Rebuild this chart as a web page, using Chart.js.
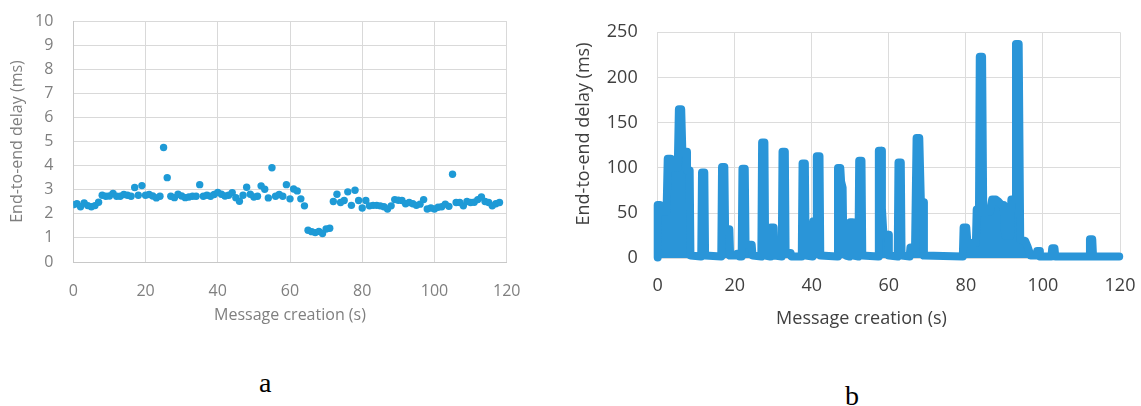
<!DOCTYPE html>
<html><head><meta charset="utf-8">
<script src="https://cdn.jsdelivr.net/npm/chart.js@4.4.1/dist/chart.umd.min.js"></script>
<style>
html,body{margin:0;padding:0;background:#fff;width:1141px;height:406px;overflow:hidden;position:relative;}
#wa{position:absolute;left:0;top:0;width:560px;height:340px;}
#wb{position:absolute;left:560px;top:0;width:581px;height:340px;}
.cap{position:absolute;font-family:"Liberation Serif",serif;font-size:28px;color:#000;line-height:28px;}
</style></head><body>
<div id="wa"><canvas id="ca"></canvas></div>
<div id="wb"><canvas id="cb"></canvas></div>
<div class="cap" style="left:259px;top:369px">a</div>
<div class="cap" style="left:845px;top:382px">b</div>
<script>
// ---- panel a: one sample per second ----
const leftSeconds = [0,1,2,3,4,5,6,7,8,9,10,11,12,13,14,15,16,17,18,19,20,21,22,23,24,25,26,27,28,29,30,31,32,33,34,35,36,37,38,39,40,41,42,43,44,45,46,47,48,49,50,51,52,53,54,55,56,57,58,59,60,61,62,63,64,65,66,67,68,69,70,71,72,73,74,75,76,77,78,79,80,81,82,83,84,85,86,87,88,89,90,91,92,93,94,95,96,97,98,99,100,101,102,103,104,105,106,107,108,109,110,111,112,113,114,115,116,117,118];
const leftDelayMs = [
2.38,2.42,2.29,2.45,2.34,2.29,2.34,2.48,2.77,2.73,
2.74,2.84,2.73,2.73,2.80,2.77,2.73,3.09,2.77,3.17,
2.77,2.80,2.74,2.66,2.73,4.75,3.50,2.73,2.67,2.81,
2.74,2.67,2.70,2.73,2.73,3.21,2.73,2.77,2.73,2.80,
2.89,2.81,2.74,2.77,2.88,2.67,2.52,2.77,3.10,2.81,
2.70,2.73,3.16,3.02,2.66,3.91,2.73,2.80,2.73,3.21,
2.62,3.03,2.95,2.62,2.33,1.32,1.26,1.22,1.27,1.18,
1.37,1.40,2.51,2.81,2.47,2.55,2.91,2.35,2.98,2.55,
2.24,2.55,2.33,2.35,2.35,2.33,2.29,2.20,2.33,2.59,
2.56,2.55,2.42,2.47,2.42,2.35,2.40,2.59,2.20,2.24,
2.20,2.27,2.29,2.40,2.31,3.64,2.47,2.47,2.33,2.51,
2.47,2.48,2.59,2.70,2.51,2.47,2.33,2.42,2.47];
const leftXTicks = [0,20,40,60,80,100,120];
const leftYTicks = [0,1,2,3,4,5,6,7,8,9,10];

// ---- panel b: envelope of the dense delay trace ----
const rightTimeS = [
0,0,0.6,1.0,2.3,2.6,3.4,3.8,4.6,5.2,5.5,6.1,6.4,7.4,7.6,8.3,8.5,11.2,
11.3,11.5,12.1,12.3,16.5,
16.7,17.3,17.5,18.3,18.6,18.8,20.5,20.6,21.0,21.2,21.8,
22.0,22.6,22.8,24.4,24.6,26.9,
27.1,27.7,27.9,29.2,
29.4,30.1,30.3,32.2,
32.4,33.0,33.2,34.5,34.7,37.4,
37.6,38.2,38.4,40.2,
40.4,41.1,41.3,42.0,42.2,46.6,
46.8,47.4,47.6,48.0,48.2,48.6,48.8,49.8,
50.0,50.6,50.8,52.1,
52.3,52.9,53.1,57.2,
57.4,58.0,58.2,58.6,59.8,60.0,62.3,
62.5,63.1,63.3,65.4,
65.6,66.8,67.2,67.9,68.3,68.9,69.1,79.2,
79.4,80.1,80.4,82.6,82.8,83.4,83.6,84.2,84.5,85.8,86.3,86.8,87.8,88.4,89.2,89.8,90.2,91.5,91.8,92.8,93.0,93.7,94.1,95.4,96.0,96.8,98.3,98.5,99.0,99.2,102.2,
102.4,103.0,103.2,112.0,
112.2,112.8,113.0,119.8];
const rightDelayMs = [
1,59,59,52,52,110,110,100,104,100,165,165,118,118,97,97,3,2,
2,95,95,3,2,
101,101,30,32,32,3,3,5,5,2,2,
99,99,15,15,3,2,
128,128,3,2,
34,34,3,2,
118,118,6,6,2,2,
105,105,3,2,
41,41,113,113,3,2,
100,100,85,78,11,11,3,2,
40,40,3,2,
108,108,3,2,
119,119,55,26,26,3,2,
106,106,3,2,
12,12,133,133,65,62,3,2,
34,34,17,17,54,54,223,223,50,52,52,65,65,63,59,59,25,25,65,65,237,237,21,19,13,3,3,8,8,2,2,
11,11,2,2,
21,21,2,2];
const rightXTicks = [0,20,40,60,80,100,120];
const rightYTicks = [0,50,100,150,200,250];

const fixTicks = arr => (s => { s.ticks = arr.map(v => ({value: v})); });

new Chart(document.getElementById('ca'), {
  type: 'scatter',
  data: { datasets: [{
    data: leftSeconds.map((x, i) => ({x: x, y: leftDelayMs[i]})),
    backgroundColor: '#1e9ad6', borderColor: '#1e9ad6', borderWidth: 0,
    pointRadius: 3.7, pointHoverRadius: 3.7
  }]},
  options: {
    responsive: true, maintainAspectRatio: false, animation: false,
    layout: { padding: { left: 0, top: 21, right: 53.3, bottom: 0 } },
    plugins: { legend: { display: false }, tooltip: { enabled: false } },
    scales: {
      x: { type: 'linear', min: 0, max: 120,
        afterBuildTicks: fixTicks(leftXTicks),
        afterFit: s => { s.height = 78; },
        grid: { color: '#d9d9d9', drawTicks: true, tickLength: 20, tickColor: 'rgba(0,0,0,0)' },
        border: { color: '#c8c8c8' },
        ticks: { padding: 0, color: '#7f7f7f', font: { family: 'Open Sans', size: 16 } },
        title: { display: true, text: 'Message creation (s)', color: '#7f7f7f',
          font: { family: 'Open Sans', size: 16 }, padding: { top: 0, bottom: 15 } } },
      y: { type: 'linear', min: 0, max: 10,
        afterBuildTicks: fixTicks(leftYTicks),
        afterFit: s => { s.width = 73.3; },
        grid: { color: '#d9d9d9', drawTicks: true, tickLength: 20, tickColor: 'rgba(0,0,0,0)' },
        border: { color: '#c8c8c8' },
        ticks: { padding: 0, color: '#7f7f7f', font: { family: 'Open Sans', size: 16 } },
        title: { display: true, text: 'End-to-end delay (ms)', color: '#7f7f7f',
          font: { family: 'Open Sans', size: 16 }, padding: { top: 8, bottom: 0 } } }
    }
  }
});

const rightTitles = {
  id: 'rightTitles',
  afterDraw(chart) {
    const ctx = chart.ctx;
    ctx.save();
    ctx.fillStyle = '#404040';
    ctx.font = '18px "Open Sans"';
    ctx.textAlign = 'center';
    ctx.textBaseline = 'middle';
    ctx.fillText('Message creation (s)', 301.5, 318.7);
    ctx.translate(24, 134);
    ctx.rotate(-Math.PI / 2);
    ctx.fillText('End-to-end delay (ms)', 0, 0);
    ctx.restore();
  }
};

new Chart(document.getElementById('cb'), {
  type: 'line',
  data: { datasets: [{
    data: rightTimeS.map((x, i) => ({x: x, y: rightDelayMs[i]})),
    borderColor: '#2a95d8', backgroundColor: '#2a95d8',
    borderWidth: 8, borderCapStyle: 'round', borderJoinStyle: 'round',
    pointRadius: 0, pointHoverRadius: 0, tension: 0, fill: 'origin', clip: 8
  }]},
  options: {
    responsive: true, maintainAspectRatio: false, animation: false,
    layout: { padding: { left: 0, top: 32.3, right: 21, bottom: 0 } },
    plugins: { legend: { display: false }, tooltip: { enabled: false } },
    scales: {
      x: { type: 'linear', min: 0, max: 120,
        afterBuildTicks: fixTicks(rightXTicks),
        afterFit: s => { s.height = 81.7; },
        grid: { color: '#dcdcdc', drawTicks: true, tickLength: 17, tickColor: 'rgba(0,0,0,0)' },
        border: { color: '#dcdcdc' },
        ticks: { padding: 0, color: '#404040', font: { family: 'Open Sans', size: 18 } } },
      y: { type: 'linear', min: 0, max: 250,
        afterBuildTicks: fixTicks(rightYTicks),
        afterFit: s => { s.width = 97.7; },
        grid: { color: '#dcdcdc', drawTicks: true, tickLength: 20, tickColor: 'rgba(0,0,0,0)' },
        border: { color: '#dcdcdc' },
        ticks: { padding: 0, color: '#404040', font: { family: 'Open Sans', size: 18 } } }
    }
  },
  plugins: [rightTitles]
});
</script>
</body></html>
